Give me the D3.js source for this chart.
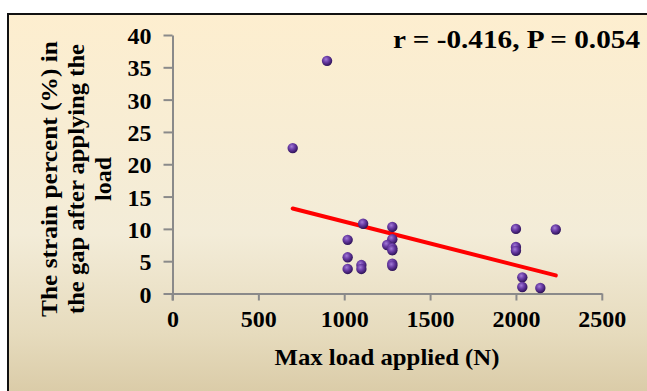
<!DOCTYPE html>
<html><head><meta charset="utf-8">
<script src="https://cdn.jsdelivr.net/npm/d3@7"></script>
<style>html,body{margin:0;padding:0;background:#fff;}svg{display:block;}</style>
</head><body>
<svg id="c" width="647" height="391"></svg>
<script>
// Data
const loadN   = [900, 700, 1020, 1020, 1020, 1100, 1100, 1110, 1280, 1280, 1250, 1280, 1280, 1280, 1280, 2000, 2000, 2000, 2232, 2037, 2037, 2142];
const strain  = [36.0, 22.5, 8.3, 5.6, 3.8, 4.4, 3.8, 10.8, 10.3, 8.4, 7.5, 7.0, 6.7, 4.6, 4.3, 10.0, 7.2, 6.6, 9.9, 2.5, 1.0, 0.85];
const trendX  = [700, 2232];
const trendY  = [13.15, 2.8];
const xTicks  = [0, 500, 1000, 1500, 2000, 2500];
const yTicks  = [0, 5, 10, 15, 20, 25, 30, 35, 40];
const yLabelLines = ["The strain percent (%) in", "the gap after applying the", "load"];
const xLabel  = "Max load applied (N)";
const annotation = "r = -0.416, P = 0.054";

const svg = d3.select("#c");
const defs = svg.append("defs");
const bg = defs.append("linearGradient").attr("id","bg").attr("x1",0).attr("y1",0).attr("x2",0).attr("y2",1);
bg.append("stop").attr("offset","0%").attr("stop-color","#fdeecf");
bg.append("stop").attr("offset","55%").attr("stop-color","#f3ecd8");
bg.append("stop").attr("offset","80%").attr("stop-color","#e6dbbd");
bg.append("stop").attr("offset","100%").attr("stop-color","#d6c6a0");
const rg = defs.append("radialGradient").attr("id","dot").attr("cx","40%").attr("cy","35%").attr("r","65%");
rg.append("stop").attr("offset","0%").attr("stop-color","#a27bd6");
rg.append("stop").attr("offset","45%").attr("stop-color","#6a3ca6");
rg.append("stop").attr("offset","100%").attr("stop-color","#2e1258");

svg.append("rect").attr("x",0).attr("y",0).attr("width",647).attr("height",391).attr("fill","#fff");
svg.append("rect").attr("x",8).attr("y",14).attr("width",660).attr("height",400)
  .attr("fill","url(#bg)").attr("stroke","#111").attr("stroke-width",2);

const x = d3.scaleLinear().domain([0,2500]).range([172.5,601.8]);
const y = d3.scaleLinear().domain([0,40]).range([293.5,35]);

const font = "'Liberation Serif','Times New Roman',serif";
const axisColor = "#8a8a8a";

// y axis
const ya = svg.append("g").attr("transform",`translate(${x(0)},0)`)
  .call(d3.axisLeft(y).tickValues(yTicks).tickSize(9).tickSizeOuter(0).tickFormat(d3.format("d")));
// x axis
const xa = svg.append("g").attr("transform",`translate(0,${y(0)})`)
  .call(d3.axisBottom(x).tickValues(xTicks).tickSize(7).tickSizeOuter(0).tickFormat(d3.format("d")));
[ya,xa].forEach(g=>{
  g.select(".domain").attr("stroke",axisColor).attr("stroke-width",2);
  g.selectAll(".tick line").attr("stroke",axisColor).attr("stroke-width",2);
  g.selectAll(".tick text").attr("fill","#000").attr("font-family",font).attr("font-weight","bold").attr("font-size",24);
});
ya.selectAll(".tick text").attr("x",-21).attr("dy","0.36em");
xa.selectAll(".tick text").attr("y",16).attr("dy","0.71em");
// y axis extends slightly below x axis
svg.append("line").attr("x1",x(0)).attr("x2",x(0)).attr("y1",y(0)).attr("y2",y(0)+7)
  .attr("stroke",axisColor).attr("stroke-width",2);

// trend line
svg.append("line")
  .attr("x1",x(trendX[0])).attr("y1",y(trendY[0]))
  .attr("x2",x(trendX[1])).attr("y2",y(trendY[1]))
  .attr("stroke","#ff0000").attr("stroke-width",4).attr("stroke-linecap","round");

// points
svg.append("g").selectAll("circle").data(loadN.map((d,i)=>[d,strain[i]])).join("circle")
  .attr("cx",d=>x(d[0])).attr("cy",d=>y(d[1])).attr("r",5.2)
  .attr("fill","url(#dot)");

// annotation
svg.append("text").attr("x",393).attr("y",48).attr("font-family",font).attr("font-weight","bold")
  .attr("font-size",26).attr("textLength",247).attr("lengthAdjust","spacingAndGlyphs").text(annotation);

// x label
svg.append("text").attr("x",387).attr("y",365).attr("text-anchor","middle").attr("font-family",font)
  .attr("font-weight","bold").attr("font-size",24).attr("textLength",225).attr("lengthAdjust","spacingAndGlyphs").text(xLabel);

// y label
const yCx = [49, 76, 103];
const yLen = [276, 270, null];
yLabelLines.forEach((t,i)=>{
  const tx = svg.append("text").attr("transform",`translate(${yCx[i]},179) rotate(-90)`)
    .attr("text-anchor","middle").attr("dy","0.35em").attr("font-family",font)
    .attr("font-weight","bold").attr("font-size",24).text(t);
  if(yLen[i]) tx.attr("textLength",yLen[i]).attr("lengthAdjust","spacingAndGlyphs");
});
</script>
</body></html>
